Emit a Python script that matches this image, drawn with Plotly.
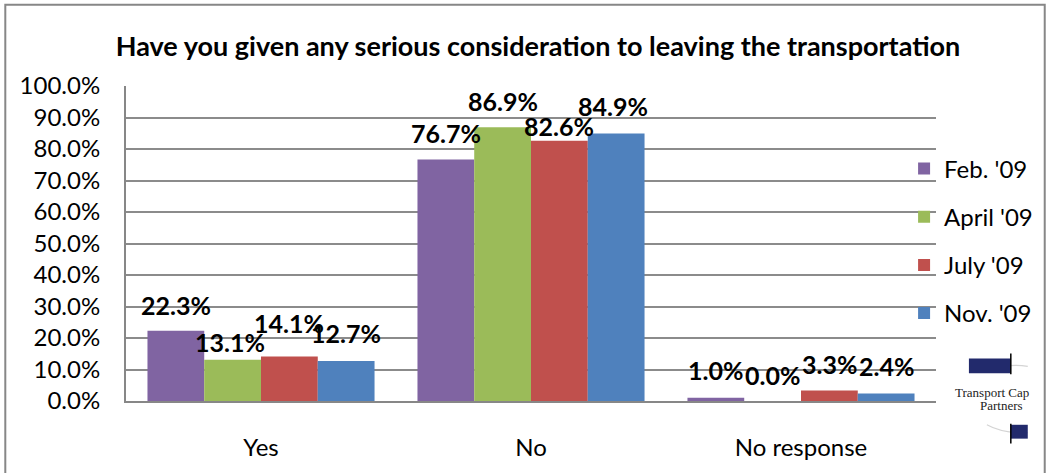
import plotly.graph_objects as go

categories = ["Yes", "No", "No response"]
series_names = ["Feb. '09", "April '09", "July '09", "Nov. '09"]
feb_09 = [22.3, 76.7, 1.0]
april_09 = [13.1, 86.9, 0.0]
july_09 = [14.1, 82.6, 3.3]
nov_09 = [12.7, 84.9, 2.4]
y_tick_values = [0, 10, 20, 30, 40, 50, 60, 70, 80, 90, 100]
title_text = "Have you given any serious consideration to leaving the transportation"

series_values = [feb_09, april_09, july_09, nov_09]
colors = ["#8064A2", "#9BBB59", "#C0504D", "#4F81BD"]

# label placement tweaks (pixels above bar top, horizontal nudge) - styling only
label_dy = [[26, 26, 28], [18, 26, 26], [34, 15, 27], [28, 28, 27]]
label_dx = [[0, 0, 0], [-3, 0, 0], [0, 0, 0], [0, -3, 0]]

W, H = 1050, 473
L, R, T, B = 126, 938, 86, 404
BARGAP = 0.159
FONT = "Lato"

fig = go.Figure()
for name, vals, col in zip(series_names, series_values, colors):
    fig.add_trace(go.Bar(
        x=categories, y=vals, name=name, marker=dict(color=col, line=dict(width=0)),
        legendgroup=name, hoverinfo="skip",
    ))

plot_w = R - L
bar_w = plot_w / len(categories) * (1 - BARGAP) / len(series_names)
annotations = []
for j, vals in enumerate(series_values):
    for i, v in enumerate(vals):
        annotations.append(dict(
            x=categories[i], y=v, xref="x", yref="y", text=f"{v:.1f}%",
            showarrow=False, xanchor="center", yanchor="middle",
            xshift=(j - (len(series_names) - 1) / 2) * bar_w + label_dx[j][i],
            yshift=label_dy[j][i],
            font=dict(family=FONT, size=25, color="black", weight="bold"),
        ))

def px(xp):
    return (xp - L) / plot_w

def py(yp):
    return (B - yp) / (B - T)

shapes = [
    # outer chart border
    dict(type="rect", xref="paper", yref="paper", x0=px(5), x1=px(1047), y0=py(490), y1=py(4),
         line=dict(color="#878787", width=2), fillcolor="rgba(0,0,0,0)", layer="below"),
    # logo arcs
    dict(type="path", xref="paper", yref="paper",
         path=f"M {px(990)},{py(373)} Q {px(1010)},{py(366)} {px(1030)},{py(369)}",
         line=dict(color="#d4d4d4", width=1.2)),
    dict(type="path", xref="paper", yref="paper",
         path=f"M {px(989)},{py(428)} Q {px(1005)},{py(437)} {px(1030)},{py(436)}",
         line=dict(color="#d4d4d4", width=1.2)),
    # logo blocks
    dict(type="rect", xref="paper", yref="paper", x0=px(971), x1=px(1013), y0=py(376), y1=py(361),
         line=dict(width=0), fillcolor="#222a6c"),
    dict(type="rect", xref="paper", yref="paper", x0=px(1013), x1=px(1030), y0=py(442), y1=py(428),
         line=dict(width=0), fillcolor="#222a6c"),
    dict(type="line", xref="paper", yref="paper", x0=px(1013), x1=px(1013), y0=py(377), y1=py(356),
         line=dict(color="black", width=1.5)),
    dict(type="line", xref="paper", yref="paper", x0=px(1013), x1=px(1013), y0=py(447), y1=py(427),
         line=dict(color="black", width=1.5)),
]

annotations += [
    dict(xref="paper", yref="paper", x=px(994), y=py(395), text="Transport Cap", showarrow=False,
         xanchor="center", yanchor="middle",
         font=dict(family="Liberation Serif", size=13, color="#222222")),
    dict(xref="paper", yref="paper", x=px(1004), y=py(409), text="Partners", showarrow=False,
         xanchor="center", yanchor="middle",
         font=dict(family="Liberation Serif", size=13, color="#222222")),
]

fig.update_layout(
    width=W, height=H,
    margin=dict(l=L, r=W - R, t=T, b=H - B, pad=0),
    paper_bgcolor="white", plot_bgcolor="white",
    barmode="group", bargap=BARGAP, bargroupgap=0,
    font=dict(family=FONT, size=24, color="black"),
    title=dict(text=title_text, xref="container", yref="container", x=538 / W, y=1 - 47 / H,
               xanchor="center", yanchor="middle",
               font=dict(family=FONT, size=27, color="black", weight="bold")),
    xaxis=dict(showgrid=False, showline=True, linecolor="#878787", linewidth=2,
               ticks="", ticklabelstandoff=24, tickfont=dict(family=FONT, size=24),
               fixedrange=True),
    yaxis=dict(range=[0, 100], tickvals=y_tick_values, ticktext=[f"{v:.1f}%" for v in y_tick_values],
               showgrid=True, gridcolor="#8b8b8b", gridwidth=1.5,
               showline=True, linecolor="#878787", linewidth=2, zeroline=False,
               ticks="", ticklabelstandoff=19, tickfont=dict(family=FONT, size=24),
               fixedrange=True),
    legend=dict(x=px(906), y=py(147), xanchor="left", yanchor="top",
                traceorder="grouped", tracegroupgap=14, bgcolor="rgba(0,0,0,0)",
                font=dict(family=FONT, size=24), itemclick=False, itemdoubleclick=False),
    showlegend=True,
    shapes=shapes,
    annotations=annotations,
)

fig.write_html("out.html", config={"displayModeBar": False})
